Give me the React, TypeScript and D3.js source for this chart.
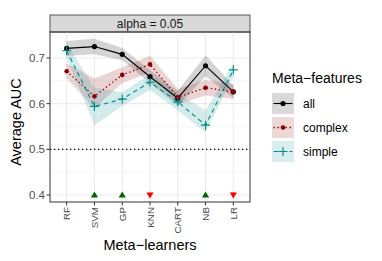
import * as d3 from "d3"

const learners = ["RF", "SVM", "GP", "KNN", "CART", "NB", "LR"]
const seriesNames = ["all", "complex", "simple"]

const allMean = [0.721, 0.725, 0.708, 0.659, 0.612, 0.683, 0.626]
const allLow = [0.705, 0.708, 0.695, 0.645, 0.595, 0.66, 0.612]
const allHigh = [0.737, 0.742, 0.722, 0.673, 0.628, 0.706, 0.64]

const complexMean = [0.671, 0.616, 0.663, 0.686, 0.614, 0.635, 0.626]
const complexLow = [0.655, 0.59, 0.645, 0.668, 0.598, 0.618, 0.61]
const complexHigh = [0.688, 0.655, 0.68, 0.705, 0.632, 0.652, 0.642]

const simpleMean = [0.716, 0.594, 0.61, 0.647, 0.604, 0.553, 0.674]
const simpleLow = [0.7, 0.553, 0.595, 0.63, 0.585, 0.537, 0.66]
const simpleHigh = [0.732, 0.635, 0.625, 0.664, 0.622, 0.585, 0.688]

// significance markers at the bottom: up = better, down = worse
const markerLearners = ["SVM", "GP", "KNN", "NB", "LR"]
const markerDirs = ["up", "up", "down", "up", "down"]

const yTicks = [0.4, 0.5, 0.6, 0.7]
const yMinor = [0.45, 0.55, 0.65, 0.75]

const colors: Record<string, string> = { all: "#000000", complex: "#8b0000", simple: "#008b8b" }
const dashes: Record<string, string> = { all: "", complex: "1.4 2.6", simple: "4.5 3.5" }

const font = "'Liberation Sans', Arial, sans-serif"

export default function App() {
  const W = 382
  const H = 261
  const left = 50
  const right = 250
  const top = 32
  const bottom = 202

  const x = d3.scalePoint<string>().domain(learners).range([left, right]).padding(0.6)
  const y = d3.scaleLinear().domain([0.4, 0.7]).range([195, 58])

  const series = [
    { name: "all", mean: allMean, lo: allLow, hi: allHigh },
    { name: "complex", mean: complexMean, lo: complexLow, hi: complexHigh },
    { name: "simple", mean: simpleMean, lo: simpleLow, hi: simpleHigh },
  ]

  const line = d3
    .line<number>()
    .x((_, i) => x(learners[i]) as number)
    .y((d) => y(d))

  const ribbon = (lo: number[], hi: number[]) =>
    d3
      .area<number>()
      .x((_, i) => x(learners[i]) as number)
      .y0((_, i) => y(lo[i]))
      .y1((_, i) => y(hi[i]))(lo) as string

  const point = (name: string, cx: number, cy: number, key: string) => {
    const c = colors[name]
    if (name === "all") return <circle key={key} cx={cx} cy={cy} r={2.6} fill={c} />
    if (name === "complex") return <circle key={key} cx={cx} cy={cy} r={2.3} fill={c} />
    return (
      <path key={key} d={`M${cx - 4.5},${cy}H${cx + 4.5}M${cx},${cy - 4.5}V${cy + 4.5}`} stroke={c} strokeWidth={1.1} />
    )
  }

  const keyFill: Record<string, string> = { all: "#d9d9d9", complex: "#eed9d9", simple: "#d9eeee" }

  return (
    <svg width={W} height={H} style={{ position: "absolute", left: 0, top: 0, fontFamily: font }}>
      <rect width={W} height={H} fill="#fff" />
      {/* strip */}
      <rect x={left} y={15} width={right - left} height={top - 15} fill="#d9d9d9" stroke="#333" strokeWidth={0.8} />
      <text x={(left + right) / 2} y={24} fontSize={12} textAnchor="middle" dominantBaseline="central" fill="#1a1a1a">
        alpha = 0.05
      </text>
      {/* grid */}
      {yMinor.map((v) => (
        <line key={"m" + v} x1={left} x2={right} y1={y(v)} y2={y(v)} stroke="#f2f2f2" strokeWidth={0.6} />
      ))}
      {yTicks.map((v) => (
        <line key={"g" + v} x1={left} x2={right} y1={y(v)} y2={y(v)} stroke="#ebebeb" strokeWidth={1.1} />
      ))}
      {learners.map((l) => (
        <line key={"v" + l} x1={x(l)} x2={x(l)} y1={top} y2={bottom} stroke="#ebebeb" strokeWidth={1.1} />
      ))}
      {/* ribbons */}
      {series.map((s) => (
        <path key={"r" + s.name} d={ribbon(s.lo, s.hi)} fill={colors[s.name]} fillOpacity={0.17} />
      ))}
      {/* reference line */}
      <line x1={left} x2={right} y1={y(0.5)} y2={y(0.5)} stroke="#000" strokeWidth={1.2} strokeDasharray="1.3 2.7" />
      {/* lines */}
      {series.map((s) => (
        <path
          key={"l" + s.name}
          d={line(s.mean) as string}
          fill="none"
          stroke={colors[s.name]}
          strokeWidth={s.name === "complex" ? 1.3 : 1.1}
          strokeDasharray={dashes[s.name]}
        />
      ))}
      {series.map((s) => s.mean.map((v, i) => point(s.name, x(learners[i]) as number, y(v), s.name + i)))}
      {/* markers */}
      {markerLearners.map((l, i) => {
        const cx = x(l) as number
        const cy = y(0.4)
        const up = markerDirs[i] === "up"
        const d = up
          ? `M${cx},${cy - 3.6}L${cx + 3.6},${cy + 2.6}L${cx - 3.6},${cy + 2.6}Z`
          : `M${cx},${cy + 3.6}L${cx + 3.6},${cy - 2.6}L${cx - 3.6},${cy - 2.6}Z`
        return <path key={"t" + l} d={d} fill={up ? "#006400" : "#ff0000"} />
      })}
      {/* panel border */}
      <rect x={left} y={top} width={right - left} height={bottom - top} fill="none" stroke="#333" strokeWidth={1} />
      {/* y axis */}
      {yTicks.map((v) => (
        <g key={"yt" + v}>
          <line x1={left - 3.5} x2={left} y1={y(v)} y2={y(v)} stroke="#333" strokeWidth={1} />
          <text x={left - 5} y={y(v)} fontSize={11.5} textAnchor="end" dominantBaseline="central" fill="#4d4d4d">
            {v.toFixed(1)}
          </text>
        </g>
      ))}
      {/* x axis */}
      {learners.map((l) => (
        <g key={"xt" + l}>
          <line x1={x(l)} x2={x(l)} y1={bottom} y2={bottom + 3.5} stroke="#333" strokeWidth={1} />
          <text
            transform={`translate(${x(l)},${bottom + 5}) rotate(-90)`}
            fontSize={9.8}
            textAnchor="end"
            dominantBaseline="central"
            fill="#4d4d4d"
          >
            {l}
          </text>
        </g>
      ))}
      <text x={(left + right) / 2} y={250} fontSize={14.5} textAnchor="middle" fill="#000">
        Meta−learners
      </text>
      <text transform={`translate(21,${(top + bottom) / 2 + 5}) rotate(-90)`} fontSize={14.5} textAnchor="middle" fill="#000">
        Average AUC
      </text>
      {/* legend */}
      <text x={272} y={83} fontSize={14} fill="#000">
        Meta−features
      </text>
      {seriesNames.map((n, i) => {
        const ky = 93 + i * 24
        const cy = ky + 10.5
        return (
          <g key={"lg" + n}>
            <rect x={272} y={ky} width={22} height={21} fill={keyFill[n]} />
            <line
              x1={273.5}
              x2={292.5}
              y1={cy}
              y2={cy}
              stroke={colors[n]}
              strokeWidth={n === "complex" ? 1.3 : 1.1}
              strokeDasharray={dashes[n]}
            />
            {point(n, 283, cy, "lp" + n)}
            <text x={303} y={cy} fontSize={12} dominantBaseline="central" fill="#000">
              {n}
            </text>
          </g>
        )
      })}
    </svg>
  )
}
